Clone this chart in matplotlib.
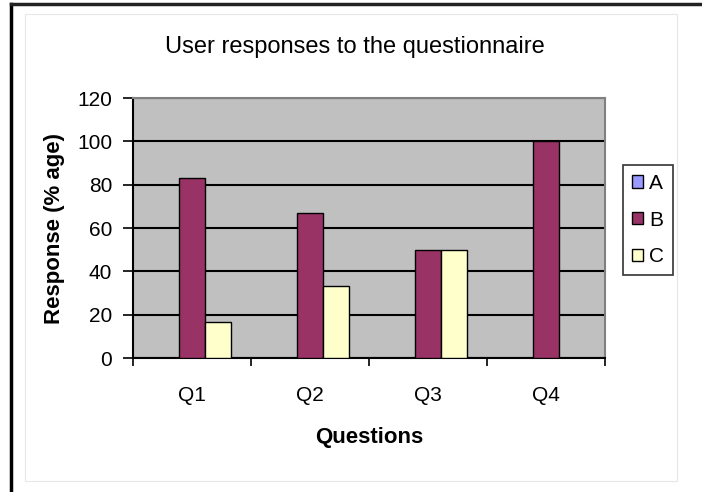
import numpy as np
import matplotlib
matplotlib.use('Agg')
import matplotlib.pyplot as plt
from matplotlib.lines import Line2D
from matplotlib.patches import Rectangle

# data
questions = ['Q1', 'Q2', 'Q3', 'Q4']
resp_a = [0, 0, 0, 0]
resp_b = [83.3, 66.7, 50, 100]
resp_c = [16.7, 33.3, 50, 0]
yticks = [0, 20, 40, 60, 80, 100, 120]

plt.rcParams['font.family'] = ['Liberation Sans', 'DejaVu Sans']

W, H = 702, 492
fig = plt.figure(figsize=(W/100, H/100), dpi=100)
fig.patch.set_facecolor('white')

# outer frame bits (black top/left, faint inner box)
fig.add_artist(Line2D([11/W, 11/W], [0, 1 - 4/H], color='black', lw=2.5))
fig.add_artist(Line2D([11/W, 1], [1 - 4/H, 1 - 4/H], color='#222222', lw=2.5))
fig.add_artist(Rectangle((25/W, 1 - 481/H), (677-25)/W, (481-14)/H,
                         fill=False, ec='#e6e6e6', lw=0.8))

ax = fig.add_axes([133/W, 1 - 358/H, (605-133)/W, (358-98)/H])
ax.set_facecolor('#c0c0c0')

x = np.arange(len(questions))
w = 0.222
ax.bar(x - w, resp_a, w, color='#9999ff', edgecolor='black', lw=1, label='A', zorder=3)
ax.bar(x, resp_b, w, color='#993366', edgecolor='black', lw=1, label='B', zorder=3)
ax.bar(x + w, resp_c, w, color='#ffffcc', edgecolor='black', lw=1, label='C', zorder=3)

ax.set_xlim(-0.5, len(questions) - 0.5)
ax.set_ylim(0, 120)
ax.set_yticks(yticks)
ax.yaxis.grid(True, color='black', lw=1.5, zorder=1)
ax.set_axisbelow(True)

ax.set_xticks(x)
ax.set_xticklabels(questions)
ax.set_xticks(np.arange(-0.5, len(questions)), minor=True)
ax.tick_params(axis='x', which='major', length=0, pad=20, labelsize=15)
ax.tick_params(axis='x', which='minor', length=6, width=1.2, direction='out')
ax.tick_params(axis='y', length=7, width=1.2, direction='out', labelsize=15, pad=8)

for s in ['top', 'right']:
    ax.spines[s].set_color('#808080')
    ax.spines[s].set_linewidth(1.5)
for s in ['left', 'bottom']:
    ax.spines[s].set_color('black')
    ax.spines[s].set_linewidth(1.5)

ax.set_xlabel('Questions', fontsize=16, fontweight='bold', labelpad=16)
ax.set_ylabel('Response (% age)', fontsize=16, fontweight='bold', labelpad=9)
fig.text(355/W, 1 - 47/H, 'User responses to the questionnaire',
         ha='center', va='center', fontsize=17)

leg = fig.legend(loc='center', bbox_to_anchor=(648/W, 1 - 220/H),
                 fontsize=15, frameon=True, fancybox=False, edgecolor='black',
                 handlelength=0.55, handleheight=0.55, handletextpad=0.3,
                 labelspacing=0.85, borderpad=0.4)
leg.get_frame().set_linewidth(1.2)

fig.savefig('out.png', dpi=100)
